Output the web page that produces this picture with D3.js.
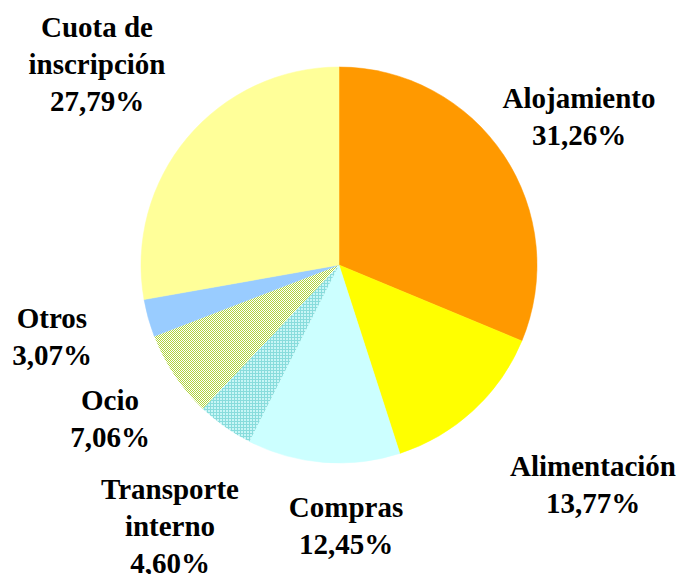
<!DOCTYPE html>
<html>
<head>
<meta charset="utf-8">
<script src="https://cdn.jsdelivr.net/npm/d3@7"></script>
<style>
  html, body { margin: 0; padding: 0; background: #ffffff; }
  svg { display: block; }
  .lbl { font-family: "Liberation Serif", "DejaVu Serif", "Times New Roman", serif; font-weight: bold; font-size: 29px; }
</style>
</head>
<body>
<svg id="chart" width="681" height="574"></svg>
<script>
// ---- data ----
const categories = ["Alojamiento", "Alimentación", "Compras", "Transporte interno", "Ocio", "Otros", "Cuota de inscripción"];
const values = [31.26, 13.77, 12.45, 4.60, 7.06, 3.07, 27.79];
const labelLines = [
  ["Alojamiento"],
  ["Alimentación"],
  ["Compras"],
  ["Transporte", "interno"],
  ["Ocio"],
  ["Otros"],
  ["Cuota de", "inscripción"]
];
const colors = ["#FF9900", "#FFFF00", "#CCFFFF", "url(#patTransporte)", "url(#patOcio)", "#99CCFF", "#FFFF99"];

// ---- layout ----
const W = 681, H = 574;
const cx = 339, cy = 265, R = 198;
const labelAnchor = [
  [579, 108], [593, 476], [346, 517], [170, 499], [110, 410], [52, 328], [97, 37]
];
const lineH = 37;

const svg = d3.select("#chart");
const defs = svg.append("defs");

// Ocio pattern: fine green checker
const p1 = defs.append("pattern").attr("id", "patOcio")
  .attr("patternUnits", "userSpaceOnUse").attr("width", 2).attr("height", 2);
p1.append("rect").attr("width", 2).attr("height", 2).attr("fill", "#ffffff");
p1.append("rect").attr("x", 0).attr("y", 0).attr("width", 1).attr("height", 1).attr("fill", "#b0d43c").attr("shape-rendering", "crispEdges");
p1.append("rect").attr("x", 1).attr("y", 1).attr("width", 1).attr("height", 1).attr("fill", "#b0d43c").attr("shape-rendering", "crispEdges");

// Transporte pattern: cyan grid
const p2 = defs.append("pattern").attr("id", "patTransporte")
  .attr("patternUnits", "userSpaceOnUse").attr("width", 3).attr("height", 3);
p2.append("rect").attr("width", 3).attr("height", 3).attr("fill", "#88dcdc").attr("shape-rendering", "crispEdges");
p2.append("rect").attr("x", 1).attr("y", 1).attr("width", 2).attr("height", 2).attr("fill", "#c8f6f6").attr("shape-rendering", "crispEdges");

const data = categories.map((c, i) => ({ name: c, value: values[i], idx: i }));
const pie = d3.pie().value(d => d.value).sort(null);
const arc = d3.arc().innerRadius(0).outerRadius(R);

const g = svg.append("g").attr("transform", `translate(${cx},${cy})`);
g.selectAll("path").data(pie(data)).join("path")
  .attr("d", arc)
  .attr("fill", d => colors[d.data.idx])
  .attr("stroke", d => colors[d.data.idx].startsWith("url") ? "none" : colors[d.data.idx])
  .attr("stroke-width", 0.5);

const fmt = v => v.toFixed(2).replace(".", ",") + "%";

const labels = svg.append("g")
  .attr("class", "lbl")
  .attr("fill", "#000")
  .attr("text-anchor", "middle");

data.forEach((d, i) => {
  const [x, y] = labelAnchor[i];
  const lines = labelLines[i].concat([fmt(d.value)]);
  const t = labels.append("text").attr("x", x).attr("y", y);
  lines.forEach((ln, k) => {
    t.append("tspan").attr("x", x).attr("dy", k === 0 ? 0 : lineH).text(ln);
  });
});
</script>
</body>
</html>
